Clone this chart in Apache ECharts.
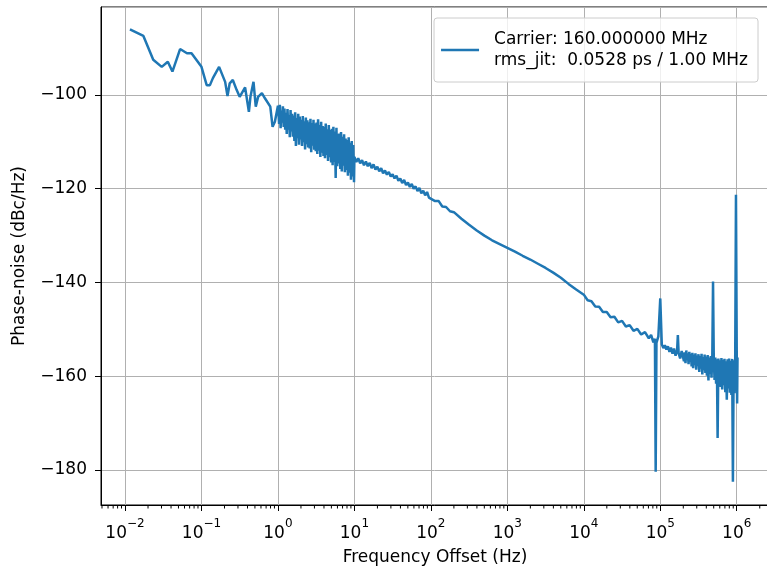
<!DOCTYPE html>
<html>
<head>
<meta charset="utf-8">
<script src="https://cdn.jsdelivr.net/npm/echarts@6/dist/echarts.min.js"></script>
<style>
  html, body { margin: 0; padding: 0; background: #fff; }
  #main { width: 767px; height: 569px; }
</style>
</head>
<body>
<div id="main"></div>
<script>
// frequency offset (Hz) and phase noise (dBc/Hz)
var freqHz = [
  // 0.01 .. 1 Hz
  0.0116, 0.0174, 0.0234, 0.0302, 0.0363, 0.0417, 0.0525, 0.0646, 0.0741, 0.100,
  0.117, 0.129, 0.141, 0.170, 0.204, 0.219, 0.234, 0.257, 0.288, 0.316,
  0.372, 0.417, 0.437, 0.479, 0.513, 0.550, 0.617, 0.676, 0.794, 0.851,
  0.912, 1.00,
  // 1 .. 10 Hz
  1.012, 1.035, 1.059, 1.084, 1.109, 1.135, 1.161, 1.189, 1.216, 1.245,
  1.274, 1.303, 1.334, 1.365, 1.396, 1.429, 1.462, 1.496, 1.531, 1.567,
  1.603, 1.641, 1.679, 1.718, 1.758, 1.799, 1.841, 1.884, 1.928, 1.972,
  2.018, 2.065, 2.113, 2.163, 2.213, 2.265, 2.317, 2.371, 2.427, 2.483,
  2.541, 2.600, 2.661, 2.723, 2.786, 2.851, 2.917, 2.985, 3.055, 3.126,
  3.199, 3.273, 3.350, 3.428, 3.508, 3.589, 3.673, 3.758, 3.846, 3.936,
  4.027, 4.121, 4.217, 4.315, 4.416, 4.519, 4.624, 4.732, 4.842, 4.955,
  5.070, 5.188, 5.309, 5.433, 5.559, 5.689, 5.821, 5.957, 6.095, 6.237,
  6.383, 6.531, 6.683, 6.839, 6.998, 7.161, 7.328, 7.499, 7.674, 7.852,
  8.035, 8.222, 8.414, 8.610, 8.810, 9.016, 9.226, 9.441, 9.661, 9.886,
  // 10 .. 100 Hz
  10.00, 10.59, 11.22, 11.89, 12.59, 13.34, 14.13, 14.96, 15.85, 16.79,
  17.78, 18.84, 19.95, 21.13, 22.39, 23.71, 25.12, 26.61, 28.18, 29.85,
  31.62, 33.50, 35.48, 37.58, 39.81, 42.17, 44.67, 47.32, 50.12, 53.09,
  56.23, 59.57, 63.10, 66.83, 70.79, 74.99, 79.43, 84.14, 89.13, 94.41,
  // 100 Hz .. 10 kHz
  100, 112, 126, 141, 158, 178, 200, 251, 316, 398,
  501, 631, 794, 1000, 1259, 1585, 1995, 2512, 3162, 3981,
  5012, 6310, 7943,
  // 10 kHz .. 100 kHz
  10000, 11220, 12589, 14125, 15849, 17783, 19953, 22387, 25119, 28184,
  31623, 35481, 39811, 44668, 50119, 56234, 63096, 70795, 75858, 81283,
  85114, 87096, 89125, 94406,
  // 100 kHz .. 200 kHz
  100000, 104713, 109648, 114815, 120226, 125893, 131826, 138038, 144544, 151356,
  158489, 165959, 169824, 173780, 181970, 190546,
  // 200 kHz .. 1 MHz
  199526, 204174, 208930, 213796, 218776, 223872, 229087, 234423, 239883, 245471,
  251189, 257040, 263027, 269153, 275423, 281838, 288403, 295121, 301995, 309030,
  316228, 323594, 331131, 338844, 346737, 354813, 363078, 371535, 380189, 389045,
  398107, 407380, 416869, 426580, 436516, 446684, 457088, 467735, 478630, 489779,
  501187, 512861, 524807, 537032, 549541, 562341, 575440, 588844, 602560, 616595,
  630957, 645654, 660693, 676083, 691831, 707946, 724436, 741310, 758578, 776247,
  794328, 812831, 831764, 851138, 870964, 891251, 912011, 933254, 954993, 977237,
  1000000, 1011579, 1023293
];
var phaseNoise = [
  // 0.01 .. 1 Hz
  -86.0, -87.4, -92.5, -94.0, -92.9, -95.0, -90.2, -91.1, -91.1, -94.0,
  -97.9, -97.9, -96.4, -94.0, -97.2, -100.2, -97.5, -96.8, -98.9, -100.4,
  -98.4, -103.6, -100.4, -97.2, -102.5, -100.4, -99.6, -100.7, -102.5, -106.8,
  -105.7, -102.3,
  // 1 .. 10 Hz
  -103.0, -106.2, -102.1, -107.1, -103.3, -105.9, -102.4, -106.8, -102.9, -107.4,
  -103.8, -108.3, -103.0, -107.4, -104.3, -109.0, -103.2, -107.8, -104.0, -108.9,
  -104.4, -109.8, -103.7, -110.9, -104.9, -109.2, -104.0, -110.6, -104.6, -109.5,
  -105.3, -110.9, -104.5, -110.1, -105.6, -111.6, -104.8, -110.5, -105.4, -111.2,
  -105.8, -111.4, -105.1, -112.2, -106.0, -110.8, -105.3, -111.7, -106.1, -112.0,
  -105.9, -112.6, -105.2, -111.9, -106.4, -113.2, -105.7, -112.3, -106.6, -113.0,
  -106.8, -113.5, -106.1, -112.8, -107.3, -114.1, -106.4, -113.3, -107.5, -114.4,
  -107.2, -115.0, -106.8, -114.3, -107.8, -117.7, -107.0, -115.2, -108.3, -114.6,
  -108.2, -115.8, -107.9, -116.3, -108.9, -115.1, -108.4, -116.5, -109.3, -116.0,
  -109.6, -117.2, -109.0, -116.6, -110.2, -118.1, -109.8, -117.4, -110.7, -118.6,
  // 10 .. 100 Hz
  -113.2, -114.3, -113.5, -114.6, -113.9, -115.0, -114.2, -115.2, -114.5, -115.6,
  -114.8, -115.9, -115.3, -116.3, -115.6, -116.7, -116.1, -117.0, -116.4, -117.4,
  -116.9, -117.8, -117.2, -118.3, -117.8, -118.8, -118.1, -119.2, -118.7, -119.6,
  -119.0, -120.0, -119.5, -120.5, -119.8, -121.0, -120.4, -121.4, -120.7, -121.9,
  // 100 Hz .. 10 kHz
  -121.6, -122.6, -122.6, -123.8, -123.9, -124.8, -125.0, -126.4, -127.7, -128.9,
  -130.0, -131.0, -131.8, -132.6, -133.4, -134.3, -135.1, -136.0, -136.9, -137.9,
  -139.0, -140.3, -141.5,
  // 10 kHz .. 100 kHz
  -142.6, -143.8, -144.0, -145.1, -145.2, -146.3, -146.3, -147.4, -147.3, -148.5,
  -148.2, -149.4, -149.1, -150.3, -149.9, -151.1, -150.6, -151.9, -151.2, -152.8,
  -152.0, -180.4, -152.9, -151.5,
  // 100 kHz .. 200 kHz
  -143.4, -153.2, -154.0, -153.4, -154.3, -153.6, -154.8, -153.9, -155.2, -154.1,
  -155.6, -154.5, -151.2, -155.1, -156.2, -154.6,
  // 200 kHz .. 1 MHz
  -154.6, -156.8, -154.9, -157.2, -154.5, -156.5, -155.1, -157.4, -154.8, -156.9,
  -155.2, -157.9, -155.0, -158.3, -155.4, -157.6, -155.1, -158.6, -155.6, -157.8,
  -155.3, -159.1, -155.7, -158.4, -155.2, -159.6, -155.9, -158.7, -155.4, -159.3,
  -155.8, -159.9, -155.5, -160.9, -156.0, -159.5, -155.7, -160.3, -156.1, -139.8,
  -156.3, -160.8, -156.0, -161.6, -156.4, -173.2, -156.2, -161.2, -156.6, -162.3,
  -156.1, -162.8, -156.5, -161.9, -156.3, -163.4, -156.8, -165.0, -156.4, -162.6,
  -156.2, -163.5, -156.7, -164.0, -156.3, -182.5, -156.6, -163.6, -156.0, -121.3,
  -155.0, -165.8, -156.0
];

var seriesName = 'Carrier: 160.000000 MHz\nrms_jit:  0.0528 ps / 1.00 MHz';
var xMin = 0.004853, xMax = 2642000;   // 10^-2.314 .. 10^6.422
var yMin = -187.47, yMax = -81.23;
var yTicks = [-180, -160, -140, -120, -100];

// minor ticks of the log axis at 2..9 x each decade
var minorMult = [2, 3, 4, 5, 6, 7, 8, 9];
var decades = [0.001, 0.01, 0.1, 1, 10, 100, 1000, 10000, 100000, 1000000];
var minorTicks = [];
decades.forEach(function (d) {
  minorMult.forEach(function (m) {
    var v = m * d;
    if (v > xMin && v < xMax) minorTicks.push([v, yMin]);
  });
});

var lineData = freqHz.map(function (f, i) { return [f, phaseNoise[i]]; });
var font = 'DejaVu Sans';

var myChart = echarts.init(document.getElementById('main'));
var option = {
  animation: false,
  backgroundColor: '#ffffff',
  textStyle: { fontFamily: font, color: '#000' },
  grid: {
    left: 101, right: -2, top: 7, bottom: 64,
    containLabel: false,
    outerBoundsMode: 'none',
    show: true, borderColor: '#000', borderWidth: 1, backgroundColor: 'transparent'
  },
  legend: {
    data: [seriesName],
    right: 9,
    top: 18,
    orient: 'vertical',
    icon: 'rect',
    itemWidth: 38,
    itemHeight: 2.5,
    padding: [11, 10, 11, 7],
    backgroundColor: 'rgba(255,255,255,0.8)',
    borderColor: '#cccccc',
    borderWidth: 1,
    borderRadius: 3,
    textStyle: { fontFamily: font, fontSize: 17, color: '#000', lineHeight: 21, padding: [0, 0, 0, 10] }
  },
  xAxis: {
    type: 'log',
    logBase: 10,
    min: xMin,
    max: xMax,
    name: 'Frequency Offset (Hz)',
    nameLocation: 'middle',
    nameGap: 44,
    nameTextStyle: { fontFamily: font, fontSize: 17, color: '#000' },
    axisLine: { show: true, lineStyle: { color: '#000', width: 1 } },
    axisTick: { show: true, length: 6, lineStyle: { color: '#000', width: 1 } },
    axisLabel: {
      margin: 13,
      fontFamily: font,
      fontSize: 17,
      color: '#000',
      showMinLabel: false,
      showMaxLabel: false,
      formatter: function (v) {
        var l = Math.log10(v);
        var e = Math.round(l);
        if (Math.abs(l - e) > 1e-6) return '';
        return '{b|10}{s|' + (e < 0 ? '\u2212' + (-e) : e) + '}';
      },
      rich: {
        b: { fontFamily: font, fontSize: 17, color: '#000', lineHeight: 24, verticalAlign: 'bottom' },
        s: { fontFamily: font, fontSize: 12, color: '#000', lineHeight: 24, verticalAlign: 'top' }
      }
    },
    splitLine: { show: true, lineStyle: { color: '#b0b0b0', width: 1 } }
  },
  yAxis: {
    type: 'value',
    min: yMin,
    max: yMax,
    splitNumber: 5,
    name: 'Phase-noise (dBc/Hz)',
    nameLocation: 'middle',
    nameGap: 73,
    nameTextStyle: { fontFamily: font, fontSize: 17, color: '#000' },
    axisLine: { show: true, lineStyle: { color: '#000', width: 1 } },
    axisTick: { show: true, length: 6, lineStyle: { color: '#000', width: 1 } },
    axisLabel: {
      margin: 14,
      fontFamily: font,
      fontSize: 17,
      color: '#000',
      showMinLabel: false,
      showMaxLabel: false,
      formatter: function (v) {
        if (yTicks.indexOf(Math.round(v)) < 0 || Math.abs(v - Math.round(v)) > 1e-6) return '';
        return v < 0 ? '\u2212' + (-v) : String(v);
      }
    },
    splitLine: { show: true, lineStyle: { color: '#b0b0b0', width: 1 } }
  },
  series: [
    {
      name: seriesName,
      type: 'line',
      data: lineData,
      symbol: 'none',
      color: '#1f77b4',
      lineStyle: { color: '#1f77b4', width: 2.5 },
      z: 3
    },
    {
      // minor ticks under the x axis
      name: 'minor',
      type: 'custom',
      silent: true,
      clip: false,
      data: minorTicks,
      renderItem: function (params, api) {
        var p = api.coord([api.value(0), yMin]);
        return {
          type: 'line',
          shape: { x1: p[0], y1: p[1], x2: p[0], y2: p[1] + 3.5 },
          style: { stroke: '#000', lineWidth: 1 }
        };
      },
      z: 2
    }
  ]
};
myChart.setOption(option);
</script>
</body>
</html>
